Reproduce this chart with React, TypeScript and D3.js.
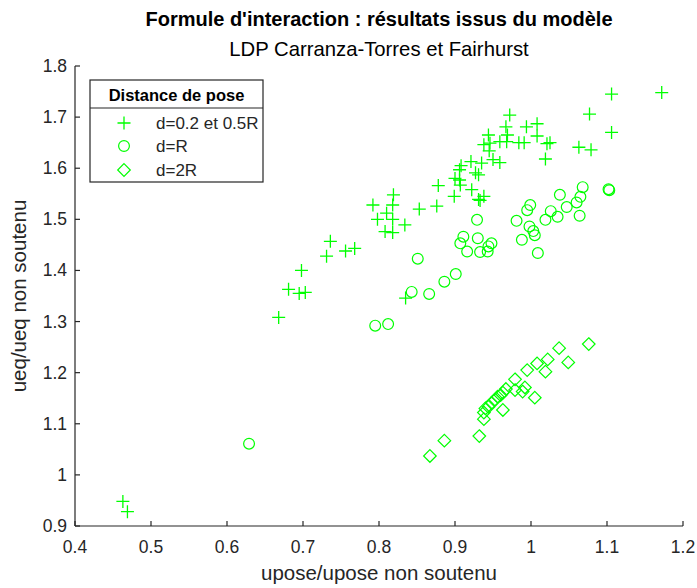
import React from "react";
import * as d3 from "d3";

const title = "Formule d'interaction : résultats issus du modèle";
const subtitle = "LDP Carranza-Torres et Fairhurst";
const xLabel = "upose/upose non soutenu";
const yLabel = "ueq/ueq non soutenu";
const legendTitle = "Distance de pose";
const seriesNames = ["d=0.2 et 0.5R", "d=R", "d=2R"];

const xTicks = [0.4, 0.5, 0.6, 0.7, 0.8, 0.9, 1, 1.1, 1.2];
const yTicks = [0.9, 1, 1.1, 1.2, 1.3, 1.4, 1.5, 1.6, 1.7, 1.8];

// d=0.2 et 0.5R (plus)
const plusX = [0.463, 0.469, 0.668, 0.681, 0.695, 0.703, 0.698, 0.731, 0.736, 0.756, 0.768, 0.792, 0.798, 0.810, 0.808, 0.818, 0.818, 0.818, 0.819, 0.834, 0.835, 0.853, 0.876, 0.878, 0.899, 0.900, 0.906, 0.907, 0.906, 0.908, 0.921, 0.922, 0.927, 0.931, 0.931, 0.933, 0.938, 0.935, 0.938, 0.944, 0.945, 0.946, 0.950, 0.959, 0.959, 0.967, 0.968, 0.969, 0.972, 0.984, 0.991, 0.994, 1.008, 1.008, 1.019, 1.021, 1.025, 1.063, 1.077, 1.079, 1.106, 1.106, 1.172];
const plusY = [0.948, 0.928, 1.308, 1.363, 1.355, 1.357, 1.400, 1.428, 1.457, 1.438, 1.443, 1.528, 1.500, 1.512, 1.476, 1.474, 1.500, 1.528, 1.548, 1.489, 1.346, 1.520, 1.526, 1.566, 1.545, 1.580, 1.577, 1.567, 1.597, 1.605, 1.613, 1.558, 1.591, 1.587, 1.539, 1.537, 1.545, 1.610, 1.646, 1.665, 1.634, 1.649, 1.617, 1.611, 1.652, 1.681, 1.652, 1.665, 1.704, 1.650, 1.650, 1.681, 1.687, 1.663, 1.618, 1.648, 1.650, 1.641, 1.706, 1.636, 1.745, 1.670, 1.748];

// d=R (circle)
const circX = [0.629, 0.795, 0.812, 0.851, 0.843, 0.866, 0.886, 0.901, 0.907, 0.911, 0.916, 0.929, 0.930, 0.933, 0.943, 0.944, 0.948, 0.981, 0.988, 0.995, 0.999, 0.998, 1.003, 1.005, 1.009, 1.019, 1.026, 1.035, 1.038, 1.047, 1.060, 1.064, 1.065, 1.068, 1.102, 1.103];
const circY = [1.061, 1.292, 1.295, 1.423, 1.358, 1.354, 1.378, 1.393, 1.453, 1.466, 1.437, 1.499, 1.463, 1.436, 1.437, 1.447, 1.453, 1.497, 1.460, 1.518, 1.528, 1.486, 1.477, 1.469, 1.434, 1.499, 1.516, 1.505, 1.548, 1.524, 1.533, 1.507, 1.544, 1.563, 1.559, 1.557];

// d=2R (diamond)
const diamX = [1.076, 1.037, 1.049, 1.022, 1.008, 1.019, 0.995, 0.979, 0.992, 0.989, 1.005, 0.979, 0.967, 0.963, 0.960, 0.956, 0.953, 0.948, 0.963, 0.944, 0.940, 0.938, 0.938, 0.932, 0.886, 0.867];
const diamY = [1.256, 1.248, 1.220, 1.226, 1.218, 1.202, 1.205, 1.187, 1.171, 1.163, 1.151, 1.166, 1.168, 1.161, 1.156, 1.153, 1.147, 1.141, 1.127, 1.133, 1.130, 1.122, 1.109, 1.076, 1.067, 1.037];

const W = 697;
const H = 588;
const M = { left: 75, right: 683, top: 66, bottom: 526 };
const GREEN = "#00ff00";
const AX = "#262626";
const FONT = "'Liberation Sans', Arial, Helvetica, sans-serif";

const plusPath = "M-6.5,0H6.5M0,-6.5V6.5";
const diamondPath = "M0,-6.3L6.3,0L0,6.3L-6.3,0Z";

function Marker({ kind, x, y }: { kind: number; x: number; y: number }) {
  if (kind === 0) return <path d={plusPath} transform={`translate(${x},${y})`} stroke={GREEN} strokeWidth={1.3} fill="none" />;
  if (kind === 1) return <circle cx={x} cy={y} r={5.4} stroke={GREEN} strokeWidth={1.2} fill="none" />;
  return <path d={diamondPath} transform={`translate(${x},${y})`} stroke={GREEN} strokeWidth={1.2} fill="none" />;
}

export default function App() {
  const x = d3.scaleLinear().domain([0.4, 1.2]).range([M.left, M.right]);
  const y = d3.scaleLinear().domain([0.9, 1.8]).range([M.bottom, M.top]);
  const series = [
    { xs: plusX, ys: plusY },
    { xs: circX, ys: circY },
    { xs: diamX, ys: diamY },
  ];
  const fmt = (v: number) => d3.format("~g")(v);
  const lg = { x0: 90, x1: 263, y0: 80, y1: 182, sep: 108 };
  const entryY = [123, 146, 170];
  return (
    <svg width={W} height={H} style={{ position: "absolute", left: 0, top: 0, background: "#fff" }} fontFamily={FONT}>
      <rect x={0} y={0} width={W} height={H} fill="#fff" />
      <text x={(M.left + M.right) / 2} y={26} textAnchor="middle" fontWeight="bold" fontSize={20} fill="#000">{title}</text>
      <text x={(M.left + M.right) / 2} y={56} textAnchor="middle" fontSize={20.3} fill="#000">{subtitle}</text>

      {/* axes */}
      <line x1={M.left} x2={M.right} y1={M.bottom} y2={M.bottom} stroke={AX} strokeWidth={1.2} />
      <line x1={M.left} x2={M.left} y1={M.top} y2={M.bottom} stroke={AX} strokeWidth={1.2} />
      {xTicks.map((t) => (
        <g key={"x" + t}>
          <line x1={x(t)} x2={x(t)} y1={M.bottom} y2={M.bottom - 5} stroke={AX} strokeWidth={1.2} />
          <text x={x(t)} y={553} textAnchor="middle" fontSize={17.5} fill={AX}>{fmt(t)}</text>
        </g>
      ))}
      {yTicks.map((t) => (
        <g key={"y" + t}>
          <line x1={M.left} x2={M.left + 5} y1={y(t)} y2={y(t)} stroke={AX} strokeWidth={1.2} />
          <text x={67} y={y(t) + 6} textAnchor="end" fontSize={17.5} fill={AX}>{fmt(t)}</text>
        </g>
      ))}
      <text x={(M.left + M.right) / 2} y={580} textAnchor="middle" fontSize={20.5} fill={AX}>{xLabel}</text>
      <text transform={`translate(26,${(M.top + M.bottom) / 2}) rotate(-90)`} textAnchor="middle" fontSize={20.5} fill={AX}>{yLabel}</text>

      {/* data */}
      {series.map((s, k) => (
        <g key={"s" + k}>
          {s.xs.map((v, i) => (
            <Marker key={i} kind={k} x={x(v)} y={y(s.ys[i])} />
          ))}
        </g>
      ))}

      {/* legend */}
      <rect x={lg.x0} y={lg.y0} width={lg.x1 - lg.x0} height={lg.y1 - lg.y0} fill="#fff" stroke={AX} strokeWidth={1.2} />
      <line x1={lg.x0} x2={lg.x1} y1={lg.sep} y2={lg.sep} stroke={AX} strokeWidth={1.2} />
      <text x={(lg.x0 + lg.x1) / 2} y={101} textAnchor="middle" fontWeight="bold" fontSize={16.5} fill="#000">{legendTitle}</text>
      {seriesNames.map((n, k) => (
        <g key={"l" + k}>
          <Marker kind={k} x={124} y={entryY[k]} />
          <text x={156} y={entryY[k] + 6} fontSize={17} fill={AX}>{n}</text>
        </g>
      ))}
    </svg>
  );
}
